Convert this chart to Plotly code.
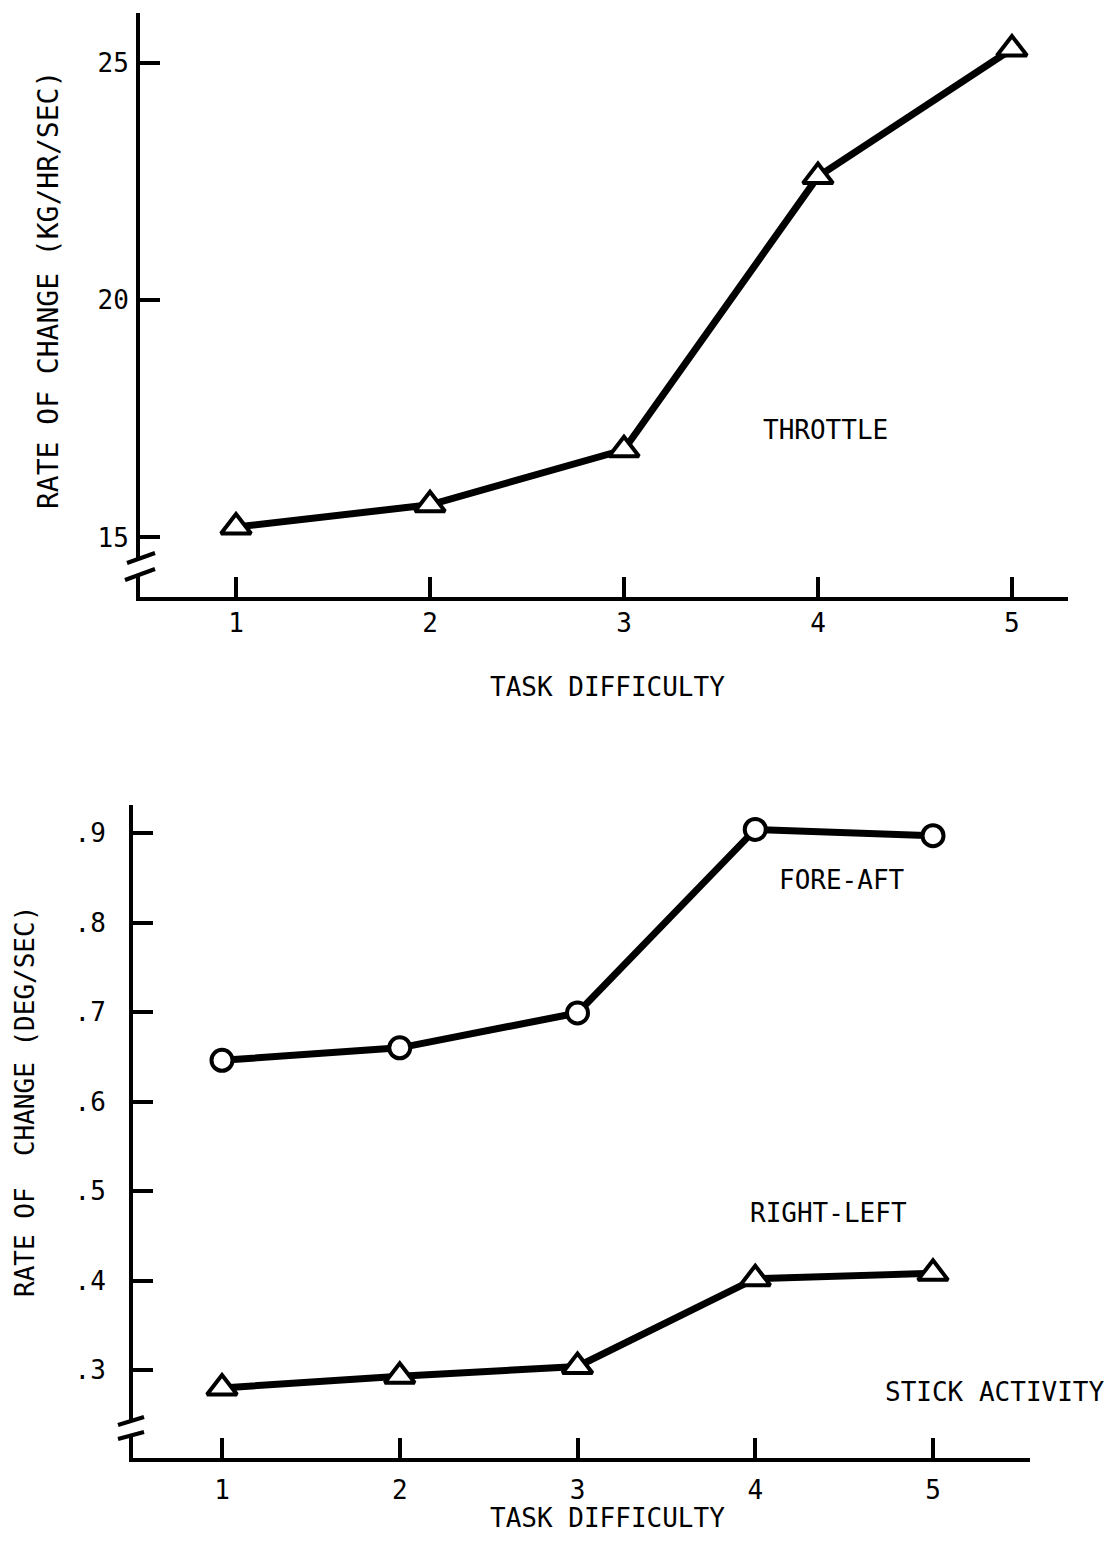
import plotly.graph_objects as go

# ---- data ----
task_difficulty = [1, 2, 3, 4, 5]
throttle = [15.22, 15.69, 16.85, 22.61, 25.30]
fore_aft = [0.646, 0.660, 0.699, 0.904, 0.897]
right_left = [0.280, 0.293, 0.304, 0.402, 0.408]

top_yticks = [15, 20, 25]
top_yticklabels = ["15", "20", "25"]
bot_yticks = [0.3, 0.4, 0.5, 0.6, 0.7, 0.8, 0.9]
bot_yticklabels = [".3", ".4", ".5", ".6", ".7", ".8", ".9"]
xticklabels = ["1", "2", "3", "4", "5"]

W, H = 1110, 1547
FONT = "DejaVu Sans Mono"

def px(x):
    return x / W

def py(y):
    return 1 - y / H

fig = go.Figure()

line_style = dict(color="black", width=7)
tri_marker = dict(symbol="triangle-up", size=26, color="white",
                  line=dict(color="black", width=4))
fig.add_trace(go.Scatter(
    x=task_difficulty, y=throttle, mode="lines+markers",
    line=line_style, marker=tri_marker,
    xaxis="x", yaxis="y", showlegend=False))
fig.add_trace(go.Scatter(
    x=task_difficulty, y=fore_aft, mode="lines+markers",
    line=line_style,
    marker=dict(symbol="circle", size=21, color="white",
                line=dict(color="black", width=4)),
    xaxis="x2", yaxis="y2", showlegend=False))
fig.add_trace(go.Scatter(
    x=task_difficulty, y=right_left, mode="lines+markers",
    line=line_style, marker=tri_marker,
    xaxis="x2", yaxis="y2", showlegend=False))

axis_common = dict(showgrid=False, zeroline=False, showline=True,
                   linecolor="black", linewidth=4, ticks="inside",
                   tickcolor="black", tickwidth=4, ticklen=20,
                   tickfont=dict(family=FONT, size=26, color="black"))

fig.update_layout(
    width=W, height=H,
    margin=dict(l=0, r=0, t=0, b=0),
    paper_bgcolor="white", plot_bgcolor="white",
    xaxis=dict(domain=[px(140), px(1068)], range=[0.505, 5.289],
               tickvals=task_difficulty, ticktext=xticklabels,
               anchor="y", ticklabelstandoff=0, **axis_common),
    yaxis=dict(domain=[py(597), py(13)], range=[13.745, 26.06],
               tickvals=top_yticks, ticktext=top_yticklabels,
               anchor="x", ticklabelstandoff=2, **axis_common),
    xaxis2=dict(domain=[px(133), px(1030)], range=[0.4993, 5.5457],
                tickvals=task_difficulty, ticktext=xticklabels,
                anchor="y2", ticklabelstandoff=6, **axis_common),
    yaxis2=dict(domain=[py(1458), py(805)], range=[0.2017, 0.9313],
                tickvals=bot_yticks, ticktext=bot_yticklabels,
                anchor="x2", ticklabelstandoff=18, **axis_common),
)

# axis breaks
shapes = []
# top
shapes.append(dict(type="rect", xref="paper", yref="paper",
                   x0=px(134), x1=px(146), y0=py(575), y1=py(558),
                   fillcolor="white", line=dict(width=0)))
shapes.append(dict(type="line", xref="paper", yref="paper",
                   x0=px(127), y0=py(563), x1=px(155), y1=py(553),
                   line=dict(color="black", width=4)))
shapes.append(dict(type="line", xref="paper", yref="paper",
                   x0=px(125), y0=py(580), x1=px(155), y1=py(569),
                   line=dict(color="black", width=4)))
# bottom
shapes.append(dict(type="rect", xref="paper", yref="paper",
                   x0=px(127), x1=px(139), y0=py(1436), y1=py(1421),
                   fillcolor="white", line=dict(width=0)))
shapes.append(dict(type="line", xref="paper", yref="paper",
                   x0=px(118), y0=py(1425), x1=px(144), y1=py(1417),
                   line=dict(color="black", width=4)))
shapes.append(dict(type="line", xref="paper", yref="paper",
                   x0=px(118), y0=py(1439), x1=px(144), y1=py(1432),
                   line=dict(color="black", width=4)))
fig.update_layout(shapes=shapes)

def label(text, x, y, angle=0, size=26):
    fig.add_annotation(text=text, x=px(x), y=py(y), xref="paper", yref="paper",
                       showarrow=False, textangle=angle,
                       xanchor="center", yanchor="middle",
                       font=dict(family=FONT, size=size, color="black"))

label("RATE OF CHANGE (KG/HR/SEC)", 48, 290, angle=-90, size=28)
label("TASK DIFFICULTY", 607, 687)
label("THROTTLE", 825, 430)
label("RATE OF  CHANGE (DEG/SEC)", 25, 1102, angle=-90, size=26)
label("FORE-AFT", 842, 880)
label("RIGHT-LEFT", 828, 1213)
label("STICK ACTIVITY", 995, 1392)
label("TASK DIFFICULTY", 607, 1518)

fig.write_html("out.html")
